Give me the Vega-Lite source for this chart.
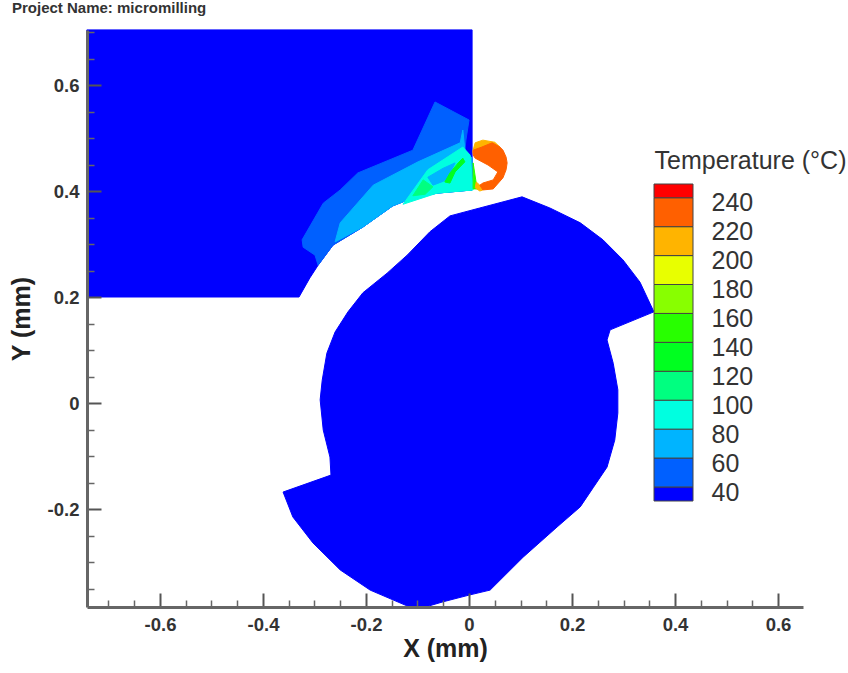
{"$schema":"https://vega.github.io/schema/vega-lite/v6.json","width":716,"height":577,"autosize":"none","padding":{"left":87,"top":30,"right":45,"bottom":66},"background":"white","config":{"view":{"stroke":null},"font":"Liberation Sans"},
"title":{"text":"Project Name: micromilling","anchor":"start","frame":"group","dx":-75,"offset":12,"fontSize":15,"fontWeight":"bold","color":"#333333","font":"Liberation Sans"},
"layer":[
{"data":{"values":[
{"p":"work","t":40,"x":-0.742,"y":0.704},{"p":"work","t":40,"x":0.006,"y":0.704},{"p":"work","t":40,"x":0.006,"y":0.402},{"p":"work","t":40,"x":-0.062,"y":0.396},{"p":"work","t":40,"x":-0.109,"y":0.387},{"p":"work","t":40,"x":-0.148,"y":0.372},{"p":"work","t":40,"x":-0.206,"y":0.332},{"p":"work","t":40,"x":-0.264,"y":0.298},{"p":"work","t":40,"x":-0.293,"y":0.260},{"p":"work","t":40,"x":-0.309,"y":0.236},{"p":"work","t":40,"x":-0.330,"y":0.2},{"p":"work","t":40,"x":-0.742,"y":0.2},
{"p":"cutter","t":40,"x":-0.037,"y":0.353},{"p":"cutter","t":40,"x":0.021,"y":0.368},{"p":"cutter","t":40,"x":0.103,"y":0.389},{"p":"cutter","t":40,"x":0.157,"y":0.368},{"p":"cutter","t":40,"x":0.216,"y":0.34},{"p":"cutter","t":40,"x":0.26,"y":0.308},{"p":"cutter","t":40,"x":0.299,"y":0.27},{"p":"cutter","t":40,"x":0.332,"y":0.228},{"p":"cutter","t":40,"x":0.359,"y":0.172},{"p":"cutter","t":40,"x":0.274,"y":0.138},{"p":"cutter","t":40,"x":0.268,"y":0.119},{"p":"cutter","t":40,"x":0.28,"y":0.075},{"p":"cutter","t":40,"x":0.289,"y":0.025},{"p":"cutter","t":40,"x":0.289,"y":-0.019},{"p":"cutter","t":40,"x":0.283,"y":-0.07},{"p":"cutter","t":40,"x":0.268,"y":-0.121},{"p":"cutter","t":40,"x":0.241,"y":-0.16},{"p":"cutter","t":40,"x":0.216,"y":-0.196},{"p":"cutter","t":40,"x":0.171,"y":-0.234},{"p":"cutter","t":40,"x":0.105,"y":-0.291},{"p":"cutter","t":40,"x":0.041,"y":-0.353},{"p":"cutter","t":40,"x":0.002,"y":-0.362},{"p":"cutter","t":40,"x":-0.05,"y":-0.375},{"p":"cutter","t":40,"x":-0.085,"y":-0.385},{"p":"cutter","t":40,"x":-0.115,"y":-0.385},{"p":"cutter","t":40,"x":-0.192,"y":-0.353},{"p":"cutter","t":40,"x":-0.25,"y":-0.315},{"p":"cutter","t":40,"x":-0.303,"y":-0.264},{"p":"cutter","t":40,"x":-0.342,"y":-0.215},{"p":"cutter","t":40,"x":-0.361,"y":-0.168},{"p":"cutter","t":40,"x":-0.268,"y":-0.136},{"p":"cutter","t":40,"x":-0.27,"y":-0.102},{"p":"cutter","t":40,"x":-0.283,"y":-0.051},{"p":"cutter","t":40,"x":-0.289,"y":0.006},{"p":"cutter","t":40,"x":-0.285,"y":0.043},{"p":"cutter","t":40,"x":-0.276,"y":0.094},{"p":"cutter","t":40,"x":-0.26,"y":0.134},{"p":"cutter","t":40,"x":-0.235,"y":0.172},{"p":"cutter","t":40,"x":-0.206,"y":0.208},{"p":"cutter","t":40,"x":-0.159,"y":0.245},{"p":"cutter","t":40,"x":-0.12,"y":0.279},{"p":"cutter","t":40,"x":-0.076,"y":0.323},
{"p":"b60","t":60,"x":-0.066,"y":0.568},{"p":"b60","t":60,"x":0,"y":0.534},{"p":"b60","t":60,"x":-0.006,"y":0.496},{"p":"b60","t":60,"x":-0.008,"y":0.477},{"p":"b60","t":60,"x":0.006,"y":0.462},{"p":"b60","t":60,"x":0.006,"y":0.402},{"p":"b60","t":60,"x":-0.062,"y":0.396},{"p":"b60","t":60,"x":-0.109,"y":0.387},{"p":"b60","t":60,"x":-0.148,"y":0.372},{"p":"b60","t":60,"x":-0.206,"y":0.332},{"p":"b60","t":60,"x":-0.264,"y":0.298},{"p":"b60","t":60,"x":-0.293,"y":0.26},{"p":"b60","t":60,"x":-0.299,"y":0.279},{"p":"b60","t":60,"x":-0.322,"y":0.294},{"p":"b60","t":60,"x":-0.324,"y":0.308},{"p":"b60","t":60,"x":-0.283,"y":0.377},{"p":"b60","t":60,"x":-0.25,"y":0.402},{"p":"b60","t":60,"x":-0.216,"y":0.434},{"p":"b60","t":60,"x":-0.109,"y":0.477},
{"p":"b80","t":80,"x":-0.26,"y":0.304},{"p":"b80","t":80,"x":-0.25,"y":0.34},{"p":"b80","t":80,"x":-0.186,"y":0.411},{"p":"b80","t":80,"x":-0.099,"y":0.455},{"p":"b80","t":80,"x":-0.017,"y":0.491},{"p":"b80","t":80,"x":-0.012,"y":0.515},{"p":"b80","t":80,"x":-0.008,"y":0.477},{"p":"b80","t":80,"x":0.006,"y":0.462},{"p":"b80","t":80,"x":0.006,"y":0.402},{"p":"b80","t":80,"x":-0.062,"y":0.396},{"p":"b80","t":80,"x":-0.109,"y":0.387},{"p":"b80","t":80,"x":-0.148,"y":0.372},{"p":"b80","t":80,"x":-0.206,"y":0.332},
{"p":"b100","t":100,"x":-0.128,"y":0.375},{"p":"b100","t":100,"x":-0.08,"y":0.44},{"p":"b100","t":100,"x":-0.012,"y":0.483},{"p":"b100","t":100,"x":0.002,"y":0.468},{"p":"b100","t":100,"x":0.008,"y":0.402},{"p":"b100","t":100,"x":-0.062,"y":0.396},
{"p":"patch80","t":80,"x":-0.08,"y":0.426},{"p":"patch80","t":80,"x":-0.05,"y":0.443},{"p":"patch80","t":80,"x":-0.027,"y":0.453},{"p":"patch80","t":80,"x":-0.043,"y":0.421},{"p":"patch80","t":80,"x":-0.07,"y":0.411},
{"p":"patch120","t":120,"x":-0.109,"y":0.391},{"p":"patch120","t":120,"x":-0.089,"y":0.421},{"p":"patch120","t":120,"x":-0.07,"y":0.408},{"p":"patch120","t":120,"x":-0.085,"y":0.394},
{"p":"g1","t":140,"x":-0.047,"y":0.417},{"p":"g1","t":140,"x":-0.037,"y":0.434},{"p":"g1","t":140,"x":-0.021,"y":0.453},{"p":"g1","t":140,"x":-0.012,"y":0.462},{"p":"g1","t":140,"x":-0.008,"y":0.455},{"p":"g1","t":140,"x":-0.027,"y":0.436},{"p":"g1","t":140,"x":-0.037,"y":0.415},
{"p":"g3","t":160,"x":0.008,"y":0.453},{"p":"g3","t":160,"x":0.014,"y":0.415},{"p":"g3","t":160,"x":0.017,"y":0.404},{"p":"g3","t":160,"x":0.008,"y":0.404},
{"p":"top","t":220,"x":0.008,"y":0.477},{"p":"top","t":220,"x":0.012,"y":0.491},{"p":"top","t":220,"x":0.027,"y":0.496},{"p":"top","t":220,"x":0.05,"y":0.492},{"p":"top","t":220,"x":0.06,"y":0.483},{"p":"top","t":220,"x":0.045,"y":0.487},{"p":"top","t":220,"x":0.025,"y":0.479},{"p":"top","t":220,"x":0.008,"y":0.472},
{"p":"bot","t":220,"x":0.014,"y":0.417},{"p":"bot","t":220,"x":0.021,"y":0.411},{"p":"bot","t":220,"x":0.027,"y":0.402},{"p":"bot","t":220,"x":0.021,"y":0.4},{"p":"bot","t":220,"x":0.012,"y":0.406},
{"p":"ring","t":240,"x":0.008,"y":0.477},{"p":"ring","t":240,"x":0.025,"y":0.483},{"p":"ring","t":240,"x":0.045,"y":0.491},{"p":"ring","t":240,"x":0.06,"y":0.483},{"p":"ring","t":240,"x":0.066,"y":0.477},{"p":"ring","t":240,"x":0.072,"y":0.464},{"p":"ring","t":240,"x":0.074,"y":0.453},{"p":"ring","t":240,"x":0.072,"y":0.44},{"p":"ring","t":240,"x":0.066,"y":0.425},{"p":"ring","t":240,"x":0.047,"y":0.404},{"p":"ring","t":240,"x":0.027,"y":0.402},{"p":"ring","t":240,"x":0.021,"y":0.411},{"p":"ring","t":240,"x":0.027,"y":0.415},{"p":"ring","t":240,"x":0.047,"y":0.421},{"p":"ring","t":240,"x":0.056,"y":0.436},{"p":"ring","t":240,"x":0.037,"y":0.449},{"p":"ring","t":240,"x":0.012,"y":0.462},{"p":"ring","t":240,"x":0.008,"y":0.468}
]},
"mark":{"type":"line","interpolate":"linear-closed","order":false,"strokeWidth":1},
"encoding":{
"x":{"field":"x","type":"quantitative","scale":{"domain":[-0.7417,0.6485],"nice":false,"zero":false},"axis":{"orient":"bottom","values":[-0.6,-0.4,-0.2,0,0.2,0.4,0.6],"labelExpr":"''+datum.value","title":"X (mm)","grid":false,"ticks":true,"tickSize":-14,"tickWidth":2,"tickColor":"#555555","domainColor":"#666666","domainWidth":3,"labelPadding":22,"labelFontSize":18.5,"labelFontWeight":"bold","labelColor":"#333333","titleFontSize":25,"titleFontWeight":"bold","titleColor":"#222222","titlePadding":3,"zindex":1,"labelFont":"Liberation Sans","titleFont":"Liberation Sans"}},
"y":{"field":"y","type":"quantitative","scale":{"domain":[-0.3849,0.7038],"nice":false,"zero":false},"axis":{"orient":"left","values":[-0.2,0,0.2,0.4,0.6],"labelExpr":"''+datum.value","title":"Y (mm)","grid":false,"ticks":true,"tickSize":-14,"tickWidth":2,"tickColor":"#555555","domainColor":"#666666","domainWidth":3,"labelPadding":22,"labelFontSize":18.5,"labelFontWeight":"bold","labelColor":"#333333","titleFontSize":25,"titleFontWeight":"bold","titleColor":"#222222","titlePadding":13,"zindex":1,"labelFont":"Liberation Sans","titleFont":"Liberation Sans"}},
"detail":{"field":"p"},
"fill":{"field":"t","type":"ordinal","legend":null,"scale":{"domain":[40,60,80,100,120,140,160,180,200,220,240,260],"range":["#0000ff","#0060ff","#00b4ff","#00ffe0","#00ff80","#00ff20","#28ff00","#88ff00","#e8ff00","#ffb400","#ff6000","#ff0000"]}},
"stroke":{"field":"t","type":"ordinal","legend":null,"scale":{"domain":[40,60,80,100,120,140,160,180,200,220,240,260],"range":["#0000ff","#0060ff","#00b4ff","#00ffe0","#00ff80","#00ff20","#28ff00","#88ff00","#e8ff00","#ffb400","#ff6000","#ff0000"]}}
}},
{"data":{"values":[{"tx":-0.7,"ty":-0.35}]},
"mark":{"type":"point","opacity":0},
"encoding":{
"x":{"field":"tx","type":"quantitative","scale":{"domain":[-0.7417,0.6485],"nice":false,"zero":false},"axis":{"orient":"bottom","values":[-0.7,-0.65,-0.55,-0.5,-0.45,-0.35,-0.3,-0.25,-0.15,-0.1,-0.05,0.05,0.1,0.15,0.25,0.3,0.35,0.45,0.5,0.55],"labels":false,"domain":false,"title":null,"grid":false,"ticks":true,"tickSize":-7,"tickWidth":1.5,"tickColor":"#666666","zindex":1}},
"y":{"field":"ty","type":"quantitative","scale":{"domain":[-0.3849,0.7038],"nice":false,"zero":false},"axis":{"orient":"left","values":[-0.35,-0.3,-0.25,-0.15,-0.1,-0.05,0.05,0.1,0.15,0.25,0.3,0.35,0.45,0.5,0.55,0.65,0.7],"labels":false,"domain":false,"title":null,"grid":false,"ticks":true,"tickSize":-7,"tickWidth":1.5,"tickColor":"#666666","zindex":1}}
}},
{"data":{"values":[
{"lo":33.8,"hi":43.5,"t":40},{"lo":43.5,"hi":63.5,"t":60},{"lo":63.5,"hi":83.5,"t":80},{"lo":83.5,"hi":103.5,"t":100},{"lo":103.5,"hi":123.5,"t":120},{"lo":123.5,"hi":143.5,"t":140},{"lo":143.5,"hi":163.5,"t":160},{"lo":163.5,"hi":183.5,"t":180},{"lo":183.5,"hi":203.5,"t":200},{"lo":203.5,"hi":223.5,"t":220},{"lo":223.5,"hi":243.5,"t":240},{"lo":243.5,"hi":253,"t":260}
]},
"mark":{"type":"rect","stroke":"#444444","strokeWidth":1},
"encoding":{
"x":{"datum":0,"type":"quantitative","scale":{"domain":[0,1],"range":[567,606]},"axis":null},
"x2":{"datum":1},
"y":{"field":"lo","type":"quantitative","scale":{"domain":[33.8,253],"range":[471,154],"nice":false,"zero":false},"axis":{"orient":"right","offset":-110,"values":[40,60,80,100,120,140,160,180,200,220,240],"domain":false,"ticks":false,"grid":false,"labelPadding":18,"labelFontSize":25,"labelColor":"#333333","labelFont":"Liberation Sans","title":"Temperature (°C)","titleFontSize":25,"titleFontWeight":"normal","titleColor":"#333333","titleFont":"Liberation Sans","titleAngle":0,"titleAlign":"left","titleBaseline":"middle","titleX":-39,"titleY":130}},
"y2":{"field":"hi"},
"fill":{"field":"t","type":"ordinal","legend":null,"scale":{"domain":[40,60,80,100,120,140,160,180,200,220,240,260],"range":["#0000ff","#0060ff","#00b4ff","#00ffe0","#00ff80","#00ff20","#28ff00","#88ff00","#e8ff00","#ffb400","#ff6000","#ff0000"]}}
}}
],
"resolve":{"scale":{"x":"independent","y":"independent","fill":"independent","stroke":"independent"},"axis":{"x":"independent","y":"independent"}}}
